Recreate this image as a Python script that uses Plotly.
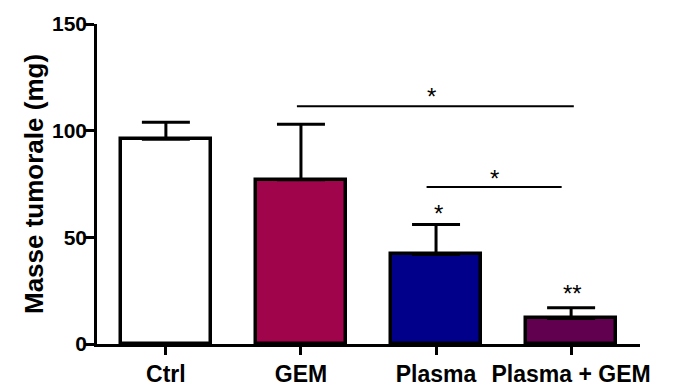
import plotly.graph_objects as go

categories = ["Ctrl", "GEM", "Plasma", "Plasma + GEM"]
means = [96, 77, 42, 12]
sems = [8, 26, 14, 5]
bar_colors = ["#FFFFFF", "#A0054B", "#00008B", "#620050"]

y_ticks = [0, 50, 100, 150]
y_title = "Masse tumorale (mg)"

# significance brackets: (x start, x end, level)
brackets = [(0.97, 3.02, 111.4), (1.93, 2.93, 73.6)]
# significance marks: (x, y, text)
marks = [(1.97, 118.6, "*"), (2.43, 80.3, "*"), (2.02, 63.8, "*"), (3.01, 26.3, "**")]

FONT = "Liberation Sans, Arial, sans-serif"

fig = go.Figure()
fig.add_trace(go.Bar(
    x=list(range(len(categories))),
    y=means,
    width=0.667,
    marker=dict(color=bar_colors, line=dict(color="black", width=3.5)),
    error_y=dict(type="data", array=sems, arrayminus=[0] * len(sems),
                 symmetric=False, color="black", thickness=3, width=24),
    showlegend=False,
))

for x0, x1, lvl in brackets:
    fig.add_shape(type="line", xref="x", yref="y", x0=x0, x1=x1, y0=lvl, y1=lvl,
                  line=dict(color="black", width=2))

for x, y, t in marks:
    fig.add_annotation(x=x, y=y, text=t, showarrow=False, xref="x", yref="y",
                       yanchor="middle", yshift=-6,
                       font=dict(family=FONT, size=24, color="black"))

# page body adds an 8px offset; compensate in size/margins
fig.update_layout(
    width=668, height=379,
    margin=dict(l=89, r=36, t=16, b=43, autoexpand=False),
    plot_bgcolor="white", paper_bgcolor="white",
    bargap=0,
    xaxis=dict(
        range=[-0.51, 3.51], automargin=False,
        tickmode="array", tickvals=list(range(len(categories))),
        ticktext=["<b>%s</b>" % c for c in categories],
        showline=True, linecolor="black", linewidth=2.5,
        ticks="outside", ticklen=8, tickwidth=2.5, tickcolor="black",
        tickfont=dict(family=FONT, size=23, color="black"),
        showgrid=False, zeroline=False,
    ),
    yaxis=dict(
        range=[0, 150], automargin=False,
        tickmode="array", tickvals=y_ticks,
        ticktext=["<b>%d</b>" % v for v in y_ticks],
        showline=True, linecolor="black", linewidth=2.5,
        ticks="outside", ticklen=10, tickwidth=2.5, tickcolor="black",
        ticklabelstandoff=-7,
        tickfont=dict(family=FONT, size=21, color="black"),
        title=dict(text="<b>%s</b>" % y_title, standoff=1,
                   font=dict(family=FONT, size=26, color="black")),
        showgrid=False, zeroline=False,
    ),
)

fig.write_html("out.html")
